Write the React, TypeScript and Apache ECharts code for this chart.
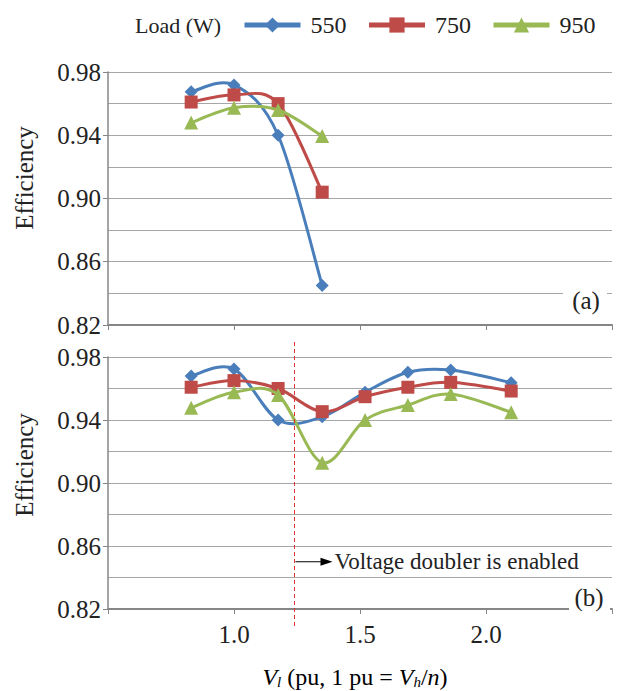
import React, { useEffect, useRef } from 'react';
import * as echarts from 'echarts';

const loads = ['550', '750', '950'];
const colors = ['#4A7EBB', '#BE4B48', '#98B954'];
const symbols = ['diamond', 'rect', 'triangle'];
const symbolSizes = [13, 13, 14];

const xTop = [0.83, 1.0, 1.175, 1.35];
const xBottom = [0.83, 1.0, 1.175, 1.35, 1.52, 1.69, 1.86, 2.1];

const top550 = [0.9675, 0.9718, 0.94, 0.845];
const top750 = [0.961, 0.9655, 0.96, 0.904];
const top950 = [0.948, 0.9574, 0.956, 0.9395];

const bot550 = [0.968, 0.9724, 0.94, 0.942, 0.9576, 0.9703, 0.9717, 0.9637];
const bot750 = [0.9608, 0.965, 0.96, 0.9453, 0.9548, 0.9608, 0.9639, 0.9584];
const bot950 = [0.9478, 0.9576, 0.9559, 0.9129, 0.94, 0.9495, 0.9565, 0.9449];

const doublerX = 1.24;
const yMin = 0.82;
const yMax = 0.98;
const yStep = 0.04;

const FONT = 'Liberation Serif';

// Excel-like smoothed line (Catmull-Rom to cubic Bezier) drawn in pixel space
function smoothPath(pts: number[][]): string {
  let d = `M${pts[0][0]},${pts[0][1]}`;
  for (let i = 0; i < pts.length - 1; i++) {
    const p0 = pts[i - 1] || pts[i];
    const p1 = pts[i];
    const p2 = pts[i + 1];
    const p3 = pts[i + 2] || pts[i + 1];
    const c1x = p1[0] + (p2[0] - p0[0]) / 6;
    const c1y = p1[1] + (p2[1] - p0[1]) / 6;
    const c2x = p2[0] - (p3[0] - p1[0]) / 6;
    const c2y = p2[1] - (p3[1] - p1[1]) / 6;
    d += ` C${c1x},${c1y} ${c2x},${c2y} ${p2[0]},${p2[1]}`;
  }
  return d;
}

export default function App() {
  const ref = useRef<HTMLDivElement>(null);
  useEffect(() => {
    if (!ref.current) return;
    const chart = echarts.init(ref.current, null, { renderer: 'svg' });
    const gridColor = '#A6A6A6';
    const axisColor = '#868686';

    const mkY = (i: number) => ({
      type: 'value',
      gridIndex: i,
      min: yMin,
      max: yMax,
      interval: yStep,
      axisLine: { show: true, lineStyle: { color: axisColor, width: 1.5 } },
      axisTick: { show: true, length: 5, lineStyle: { color: axisColor } },
      axisLabel: {
        fontFamily: FONT,
        fontSize: 25,
        color: '#222',
        margin: 7,
        formatter: (v: number) => v.toFixed(2),
      },
      splitLine: { show: true, lineStyle: { color: gridColor, width: 1.2 } },
      minorTick: { show: false, splitNumber: 2 },
      minorSplitLine: { show: true, lineStyle: { color: gridColor, width: 1.2 } },
    });
    const mkX = (i: number) => ({
      type: 'value',
      gridIndex: i,
      min: 0.5,
      max: 2.5,
      interval: 0.5,
      axisLine: { show: true, onZero: false, lineStyle: { color: axisColor, width: 2 } },
      axisTick: { show: true, length: 5, lineStyle: { color: axisColor } },
      axisLabel: {
        show: i === 1,
        fontFamily: FONT,
        fontSize: 25,
        color: '#222',
        margin: 13,
        formatter: (v: number) => (v <= 0.5 || v >= 2.5 ? '' : v.toFixed(1)),
      },
      splitLine: { show: false },
    });

    const topData = [top550, top750, top950];
    const botData = [bot550, bot750, bot950];
    const series: any[] = [];
    [0, 1].forEach((g) => {
      const xs = g === 0 ? xTop : xBottom;
      const ds = g === 0 ? topData : botData;
      loads.forEach((name, k) => {
        const ys = ds[k];
        series.push({
          type: 'custom',
          name: name + ' curve',
          xAxisIndex: g,
          yAxisIndex: g,
          data: [[xs[0], ys[0]]],
          encode: { x: 0, y: 1 },
          z: 2 + k * 2,
          renderItem: (params: any, api: any) => {
            const pts = xs.map((x, j) => api.coord([x, ys[j]]));
            return {
              type: 'path',
              shape: { pathData: smoothPath(pts) },
              style: { stroke: colors[k], lineWidth: 3, fill: 'none' },
            };
          },
        });
        series.push({
          type: 'line',
          name,
          xAxisIndex: g,
          yAxisIndex: g,
          data: xs.map((x, j) => [x, ys[j]]),
          symbol: symbols[k],
          symbolSize: symbolSizes[k],
          showAllSymbol: true,
          lineStyle: { color: colors[k], width: 0, opacity: 0 },
          itemStyle: { color: colors[k] },
          z: 3 + k * 2,
        });
      });
    });

    const italic = { fontFamily: FONT, fontSize: 24, fontStyle: 'italic', color: '#222' };
    const sub = { fontFamily: FONT, fontSize: 15, fontStyle: 'italic', color: '#222', padding: [10, 0, 0, 0] };
    const normal = { fontFamily: FONT, fontSize: 24, color: '#222' };

    chart.setOption({
      animation: false,
      grid: [
        { left: 108, right: 16, top: 72, height: 253 },
        { left: 108, right: 16, top: 357, height: 252 },
      ],
      xAxis: [mkX(0), mkX(1)],
      yAxis: [mkY(0), mkY(1)],
      legend: {
        data: loads,
        left: 242,
        top: 13,
        padding: 0,
        itemWidth: 56,
        itemHeight: 19,
        itemGap: 20,
        lineStyle: { width: 5, opacity: 1 },
        textStyle: { fontFamily: FONT, fontSize: 24, color: '#222', padding: [0, 0, 0, 5] },
      },
      series,
    });

    const dx = chart.convertToPixel({ xAxisIndex: 1 }, doublerX) as number;
    const yArrow = chart.convertToPixel({ yAxisIndex: 1 }, 0.85) as number;
    const topY = chart.convertToPixel({ yAxisIndex: 0 }, 0.82) as number;

    chart.setOption({
      graphic: [
        {
          type: 'text', z: 100, x: 135, y: 25,
          style: { text: 'Load (W)', fontFamily: FONT, fontSize: 22, fill: '#222', verticalAlign: 'middle' },
        },
        {
          type: 'text', z: 100, x: 24, y: 178, rotation: Math.PI / 2,
          style: { text: 'Efficiency', fontFamily: FONT, fontSize: 25, fill: '#222', align: 'center', verticalAlign: 'middle' },
        },
        {
          type: 'text', z: 100, x: 24, y: 465, rotation: Math.PI / 2,
          style: { text: 'Efficiency', fontFamily: FONT, fontSize: 25, fill: '#222', align: 'center', verticalAlign: 'middle' },
        },
        {
          type: 'text', z: 100, x: 355, y: 677,
          style: {
            text: '{i|V}{s|l}{n| (pu, 1 pu = }{i|V}{s|h}{n|/}{i|n}{n|)}',
            align: 'center',
            verticalAlign: 'middle',
            rich: { i: italic, s: sub, n: normal },
          },
        },
        { type: 'rect', z: 99, shape: { x: 563, y: topY - 41, width: 44, height: 32 }, style: { fill: '#fff' } },
        {
          type: 'text', z: 100, x: 586, y: topY - 25,
          style: { text: '(a)', fontFamily: FONT, fontSize: 25, fill: '#222', align: 'center', verticalAlign: 'middle' },
        },
        { type: 'rect', z: 99, shape: { x: 569, y: 580, width: 41, height: 31 }, style: { fill: '#fff' } },
        {
          type: 'text', z: 100, x: 589, y: 597,
          style: { text: '(b)', fontFamily: FONT, fontSize: 25, fill: '#222', align: 'center', verticalAlign: 'middle' },
        },
        {
          type: 'line', z: 100,
          shape: { x1: dx, y1: 342, x2: dx, y2: 626 },
          style: { stroke: '#E0302E', lineWidth: 1, lineDash: [4, 3] },
        },
        {
          type: 'line', z: 100,
          shape: { x1: dx + 1, y1: yArrow, x2: dx + 30, y2: yArrow },
          style: { stroke: '#000', lineWidth: 1 },
        },
        {
          type: 'polygon', z: 100,
          shape: { points: [[dx + 38, yArrow], [dx + 26, yArrow - 4], [dx + 26, yArrow + 4]] },
          style: { fill: '#000' },
        },
        {
          type: 'text', z: 100, x: dx + 40, y: yArrow,
          style: { text: 'Voltage doubler is enabled', fontFamily: FONT, fontSize: 23, fill: '#222', align: 'left', verticalAlign: 'middle' },
        },
      ],
    });

    return () => chart.dispose();
  }, []);
  return <div ref={ref} style={{ position: 'fixed', left: 0, top: 0, width: 628, height: 691, background: '#fff' }} />;
}
